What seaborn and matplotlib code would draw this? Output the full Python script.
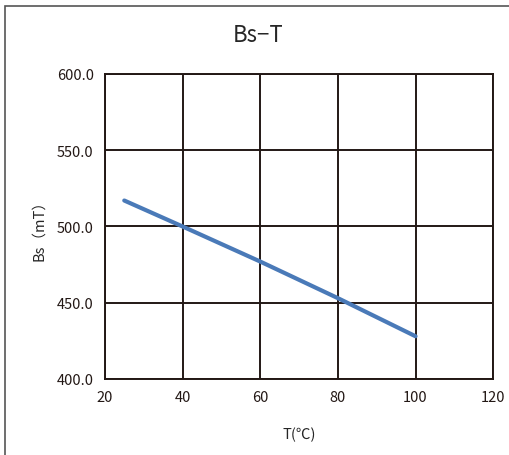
import matplotlib
matplotlib.use('Agg')
import matplotlib.pyplot as plt
import seaborn as sns
import pandas as pd
from matplotlib.patches import Rectangle

temps = [25, 40, 60, 80, 100]
bs_values = [517, 500, 477, 453, 428]
x_ticks = [20, 40, 60, 80, 100, 120]
y_ticks = [400, 450, 500, 550, 600]

df = pd.DataFrame({'T': temps, 'Bs': bs_values})

sns.set_style('white')
plt.rcParams['font.family'] = ['Noto Sans CJK SC', 'DejaVu Sans']

fig = plt.figure(figsize=(5.09, 4.56), dpi=100)
fig.patches.append(Rectangle((5 / 509, -0.1), 1.2, 1 - 7 / 456 + 0.1, transform=fig.transFigure,
                             fill=False, edgecolor='#555555', linewidth=1.2))
ax = fig.add_axes([0.206, 0.1667, 0.763, 0.669])

sns.lineplot(data=df, x='T', y='Bs', ax=ax, color='#4a7ab8', linewidth=3)

ax.set_xlim(20, 120)
ax.set_ylim(400, 600)
ax.set_xticks(x_ticks)
ax.set_yticks(y_ticks)
ax.set_yticklabels([f'{v:.1f}' for v in y_ticks])
ax.grid(True, color='#231815', linewidth=1.4)
ax.set_axisbelow(True)
for s in ax.spines.values():
    s.set_color('#231815')
    s.set_linewidth(1.4)
ax.tick_params(axis='both', length=0, labelsize=10.5, colors='#231815', pad=8)

ax.set_xlabel('T(℃)', fontsize=10.5, labelpad=16)
ax.set_ylabel('Bs（mT）', fontsize=10.5, labelpad=8)
fig.text(0.507, 1 - 35 / 456, 'Bs−T', ha='center', va='center', fontsize=16)

fig.savefig('out.png', dpi=100)
